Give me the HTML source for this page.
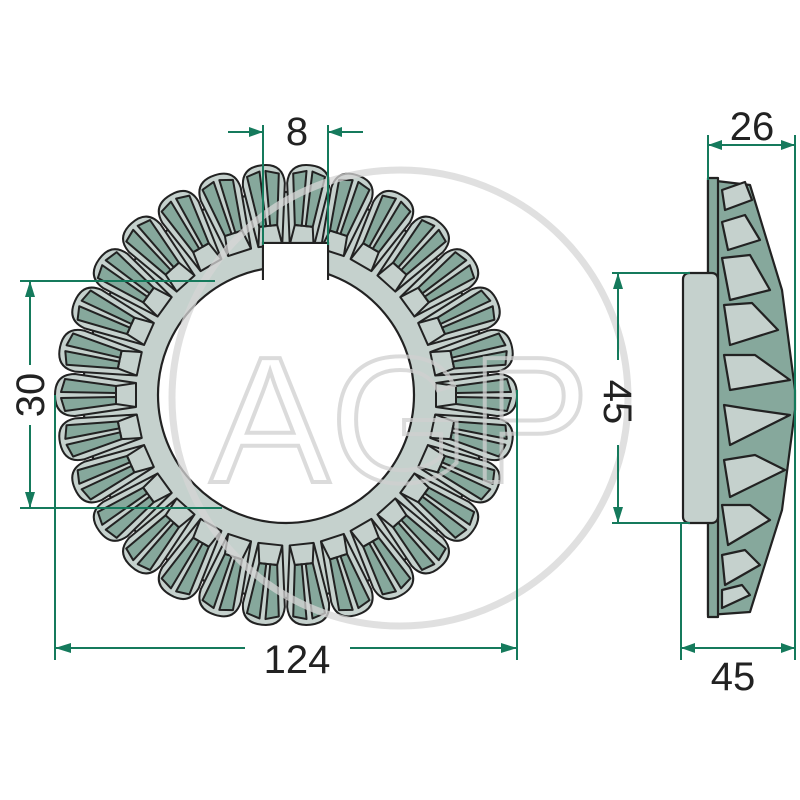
<!DOCTYPE html>
<html><head><meta charset="utf-8"><style>body{margin:0;background:#fff}svg{display:block}</style></head><body>
<svg id="s" width="800" height="800" viewBox="0 0 800 800" xmlns="http://www.w3.org/2000/svg" font-family="Liberation Sans, sans-serif">
<g id="gear"></g>
<g id="side" stroke="#222" stroke-width="2.2" stroke-linejoin="round">
<polygon points="708,180 750,185 782,290 795,390 795,410 782,510 750,612 708,615" fill="#86a89c"/>
<polygon points="708,178 718,178 718,617 708,617" fill="#86a89c"/>
<g fill="#c5d1cd">
<polygon points="722,190 745,182 752,200 725,210"/>
<polygon points="722,222 745,215 760,240 728,250"/>
<polygon points="722,258 750,255 770,290 730,300"/>
<polygon points="724,305 752,303 778,330 730,345"/>
<polygon points="724,355 755,355 790,380 730,390"/>
<polygon points="724,405 755,410 790,415 730,445"/>
<polygon points="724,460 755,455 785,470 730,497"/>
<polygon points="722,505 750,505 770,520 728,545"/>
<polygon points="722,555 745,550 760,565 725,585"/>
<polygon points="722,590 742,585 750,595 722,608"/>
</g>
<rect x="683" y="273" width="35" height="250" rx="6" fill="#c5d1cd"/>
</g>
<g opacity="0.75">
<circle cx="400" cy="398" r="228" fill="none" stroke="#d6d6d6" stroke-width="7"/>
<text x="400" y="482" text-anchor="middle" font-size="180" fill="none" stroke="#d0d0d0" stroke-width="4" font-family="Liberation Sans, sans-serif">AGP</text>
</g>
<g stroke="#157a5c" stroke-width="2" fill="none">
<line x1="20" y1="281" x2="215" y2="281"/><line x1="20" y1="508" x2="222" y2="508"/>
<line x1="30" y1="281" x2="30" y2="365"/><line x1="30" y1="425" x2="30" y2="508"/>
<line x1="55" y1="395" x2="55" y2="660"/><line x1="517" y1="390" x2="517" y2="660"/>
<line x1="55" y1="648" x2="245" y2="648"/><line x1="350" y1="648" x2="517" y2="648"/>
<line x1="263" y1="125" x2="263" y2="245"/><line x1="328" y1="125" x2="328" y2="245"/>
<line x1="228" y1="132" x2="263" y2="132"/><line x1="328" y1="132" x2="363" y2="132"/>
<line x1="708" y1="135" x2="708" y2="180"/><line x1="795" y1="135" x2="795" y2="660"/>
<line x1="708" y1="145" x2="795" y2="145"/>
<line x1="612" y1="273" x2="690" y2="273"/><line x1="612" y1="523" x2="690" y2="523"/>
<line x1="618" y1="273" x2="618" y2="360"/><line x1="618" y1="445" x2="618" y2="523"/>
<line x1="681" y1="523" x2="681" y2="660"/><line x1="681" y1="648" x2="795" y2="648"/>
</g>
<g fill="#157a5c">
<polygon points="30,281 25,297 35,297"/><polygon points="30,508 25,492 35,492"/>
<polygon points="55,648 71,643 71,653"/><polygon points="517,648 501,643 501,653"/>
<polygon points="263,132 249,127 249,137"/><polygon points="328,132 342,127 342,137"/>
<polygon points="708,145 722,140 722,150"/><polygon points="795,145 781,140 781,150"/>
<polygon points="618,273 613,289 623,289"/><polygon points="618,523 613,507 623,507"/>
<polygon points="681,648 695,643 695,653"/><polygon points="795,648 781,643 781,653"/>
</g>
<g fill="#222" font-size="40">
<text x="297" y="145" text-anchor="middle">8</text>
<text x="297" y="673" text-anchor="middle">124</text>
<text x="752" y="140" text-anchor="middle">26</text>
<text x="733" y="690" text-anchor="middle">45</text>
<text transform="translate(44,395) rotate(-90)" text-anchor="middle">30</text>
<text transform="translate(604,402) rotate(90)" text-anchor="middle">45</text>
</g>
</svg>
<script>
(function(){
var g=document.getElementById('gear'),cx=286,cy=395,N=30,h='';
h+='<circle cx="'+cx+'" cy="'+cy+'" r="203" fill="#c5d1cd" stroke="#222" stroke-width="2.2"/>';
for(var i=0;i<N;i++){
 var a=(i+0.5)*360/N-90;
 var r0=150,r1=229,w0=12,w1=21;
 h+='<g transform="translate('+cx+','+cy+') rotate('+a+')" stroke="#222" stroke-width="2" stroke-linejoin="round">';
 h+='<path d="M'+r0+','+(-w0)+' L'+(r1-18)+','+(-w1)+' Q'+(r1+2)+','+(-w1)+' '+(r1+2)+',0 Q'+(r1+2)+','+w1+' '+(r1-18)+','+w1+' L'+r0+','+w0+' Z" fill="#c5d1cd"/>';
 h+='<path d="M'+(r0+20)+',-9 L'+(r1-8)+',-16 L'+(r1-4)+',-3 L'+(r0+20)+',-2 Z" fill="#86a89c"/>';
 h+='<path d="M'+(r0+20)+',9 L'+(r1-8)+',16 L'+(r1-4)+',3 L'+(r0+20)+',2 Z" fill="#86a89c"/>';
 h+='<path d="M'+r0+','+(-w0)+' L'+(r0+20)+',-9 L'+(r0+20)+',9 L'+r0+','+w0+'" fill="none"/>';
 h+='</g>';
}
h+='<circle cx="'+cx+'" cy="'+cy+'" r="128" fill="#fff" stroke="#222" stroke-width="2.2"/>';
h+='<path d="M263,280 L263,243 L328,243 L328,280" fill="#fff" stroke="#222" stroke-width="2.2"/>';
h+='<rect x="264" y="244" width="63" height="45" fill="#fff"/>';
g.innerHTML=h;
})();
</script>
</body></html>
